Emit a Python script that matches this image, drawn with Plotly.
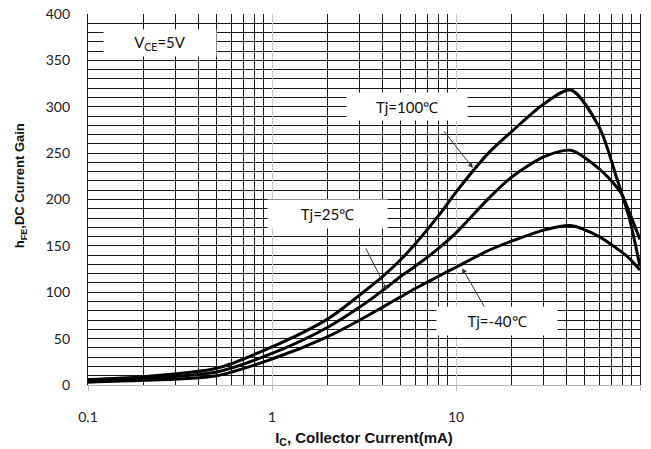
import math
import plotly.graph_objects as go

# Collector current (mA) and DC current gain for each junction temperature
ic_ma = [0.1, 0.2, 0.5, 1, 2, 3, 4, 5, 6, 8, 10, 15, 20, 30, 42, 60, 75, 80, 88, 100]
hfe_100c = [6, 9, 18, 41, 71, 97, 117, 135, 152, 182, 208, 250, 273, 303, 318, 278, 222, 205, 178, 128]
hfe_25c = [5, 7, 14, 34, 62, 84, 102, 117, 128, 147, 164, 201, 224, 246, 253, 233, 213, 205, 185, 157]
hfe_m40c = [3, 5, 10, 28, 52, 70, 84, 95, 104, 117, 127, 145, 155, 167, 172, 160, 147, 143, 136, 124]

x_tickvals = [0.1, 1, 10, 100]
x_ticktext = ["0.1", "1", "10", "100"]

TICK_FONT = dict(family="Lato, Open Sans, sans-serif", size=14, color="#222")
XTITLE_FONT = dict(family="Liberation Sans, Arial, sans-serif", size=15, color="#111")
YTITLE_FONT = dict(family="Liberation Sans, Arial, sans-serif", size=13, color="#111")
LABEL_FONT = dict(family="Lato, Open Sans, sans-serif", size=15, color="#111")

fig = go.Figure()
for series in (hfe_100c, hfe_25c, hfe_m40c):
    fig.add_trace(go.Scatter(
        x=ic_ma, y=series, mode="lines",
        line=dict(color="black", width=3, shape="spline", smoothing=0.8),
        showlegend=False, hoverinfo="skip",
    ))

fig.update_layout(
    width=651, height=449,
    margin=dict(l=88, r=11, t=14, b=64, autoexpand=False),
    paper_bgcolor="white", plot_bgcolor="white",
)

fig.update_xaxes(
    type="log", range=[-1, 2],
    tickvals=x_tickvals, ticktext=x_ticktext,
    tickfont=TICK_FONT, ticklabelstandoff=14,
    ticks="outside", ticklen=5, tickcolor="#bbbbbb", tickwidth=1,
    showgrid=True, gridcolor="#c8c8c8", gridwidth=1,
    minor=dict(dtick="D1", showgrid=True, gridcolor="#1a1a1a", gridwidth=1.2, ticks=""),
    showline=True, linecolor="#bbbbbb", linewidth=1,
    zeroline=False,
    title=dict(text="<b>I<sub>C</sub>, Collector Current(mA)</b>", font=XTITLE_FONT, standoff=8),
)

fig.update_yaxes(
    range=[0, 400], dtick=50,
    tickfont=TICK_FONT, ticklabelstandoff=14,
    ticks="",
    showgrid=True, gridcolor="#1a1a1a", gridwidth=1.2,
    minor=dict(dtick=10, showgrid=True, gridcolor="#1a1a1a", gridwidth=1.2, ticks=""),
    showline=True, linecolor="#1a1a1a", linewidth=1.2, mirror=True,
    zeroline=False,
)

# Y-axis title, placed slightly above the plot's vertical centre
fig.add_annotation(
    x=-0.123, y=0.536, xref="paper", yref="paper",
    text="<b>h<sub>FE</sub>,DC Current Gain</b>", textangle=-90,
    showarrow=False, font=YTITLE_FONT, xanchor="center", yanchor="middle",
)

# Label boxes (white background over the grid); x given as log10 of current
boxes = [
    ("V<sub>CE</sub>=5V", -0.609, 368.7, 112, 26),
    ("Tj=100℃", 0.734, 300.3, 120, 27),
    ("Tj=25℃", 0.302, 184.4, 119, 28),
    ("Tj=-40℃", 1.223, 69.0, 120, 28),
]
for text, lx, ly, w, h in boxes:
    fig.add_annotation(
        x=lx, y=ly, xref="x", yref="y", text=text, showarrow=False,
        font=LABEL_FONT, bgcolor="white", width=w, height=h,
        align="center", valign="middle", borderpad=0,
    )

# Leader arrows from labels to their curves (head at the curve point)
arrows = [
    (12.36, 234.0, -30, -38),
    (4.22, 102.4, -22, -43),
    (10.8, 126.0, 23, 40),
]
for ic_val, hfe_val, dx, dy in arrows:
    fig.add_annotation(
        x=math.log10(ic_val), y=hfe_val, xref="x", yref="y", text="",
        showarrow=True, ax=dx, ay=dy,
        arrowhead=2, arrowsize=1, arrowwidth=1, arrowcolor="#333",
        standoff=0,
    )

fig.write_html("out.html")
